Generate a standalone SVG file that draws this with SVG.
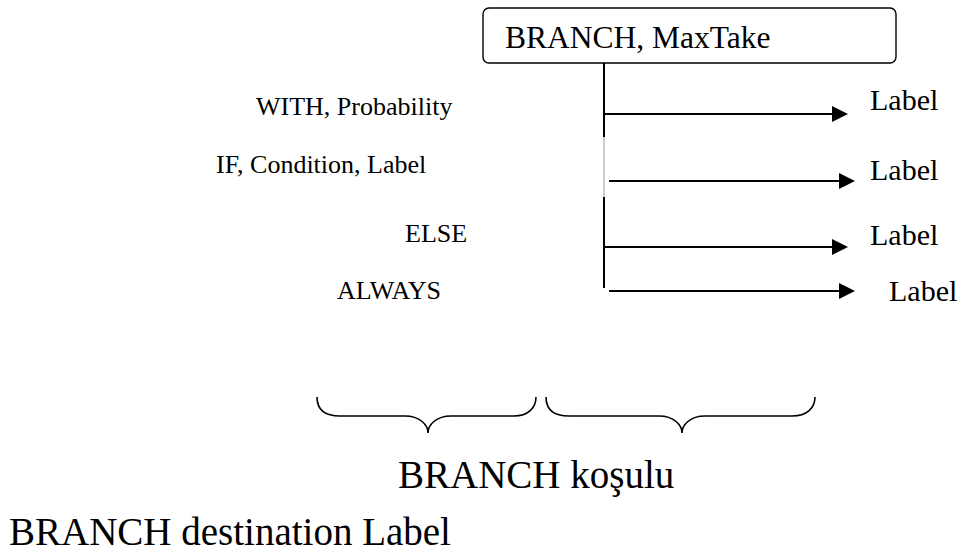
<svg xmlns="http://www.w3.org/2000/svg" width="961" height="554" viewBox="0 0 961 554">
<defs>
<style>
text{font-family:"Liberation Serif","Times New Roman",serif;fill:#000}
.ln{stroke:#000;stroke-width:2;fill:none}
.br{stroke:#000;stroke-width:1.6;fill:none}
</style>
</defs>
<rect width="961" height="554" fill="#fff"/>
<g id="node-branch">
<rect x="483" y="8" width="413" height="55" rx="6" fill="#fff" stroke="#000" stroke-width="1.4"/>
<text x="505" y="48" font-size="31.5">BRANCH, MaxTake</text>
</g>
<g id="connectors">
<line class="ln" x1="604" y1="63" x2="604" y2="137"/>
<line x1="604" y1="137" x2="604" y2="197" stroke="#999" stroke-width="1"/>
<line class="ln" x1="604" y1="197" x2="604" y2="288"/>
<line class="ln" x1="604" y1="114" x2="832" y2="114"/>
<path d="M832,106 L848,114 L832,122 Z"/>
<line class="ln" x1="609" y1="181" x2="839" y2="181"/>
<path d="M839,173 L855,181 L839,189 Z"/>
<line class="ln" x1="604" y1="247" x2="832" y2="247"/>
<path d="M832,239 L848,247 L832,255 Z"/>
<line class="ln" x1="609" y1="291" x2="839" y2="291"/>
<path d="M839,283 L855,291 L839,299 Z"/>
</g>
<g id="cond-labels">
<text x="256" y="115" font-size="26">WITH, Probability</text>
<text x="216" y="173" font-size="26">IF, Condition, Label</text>
<text x="405" y="242" font-size="26">ELSE</text>
<text x="337" y="299" font-size="26">ALWAYS</text>
</g>
<g id="dest-labels">
<text x="870" y="110" font-size="30">Label</text>
<text x="870" y="180" font-size="30">Label</text>
<text x="870" y="245" font-size="30">Label</text>
<text x="889" y="301" font-size="30">Label</text>
</g>
<g id="braces">
<path class="br" d="M317,397 C317,410 325,416 340,416 L405,416 C420,416 428,425 428,433 C428,425 436,416 451,416 L514,416 C528,416 536,408 536,397"/>
<path class="br" d="M546,397 C546,410 554,416 569,416 L659,416 C674,416 682,425 682,433 C682,425 690,416 705,416 L792,416 C807,416 815,408 815,397"/>
</g>
<g id="captions">
<text x="398" y="488" font-size="39">BRANCH koşulu</text>
<text x="9" y="545" font-size="39">BRANCH destination Label</text>
</g>
</svg>
